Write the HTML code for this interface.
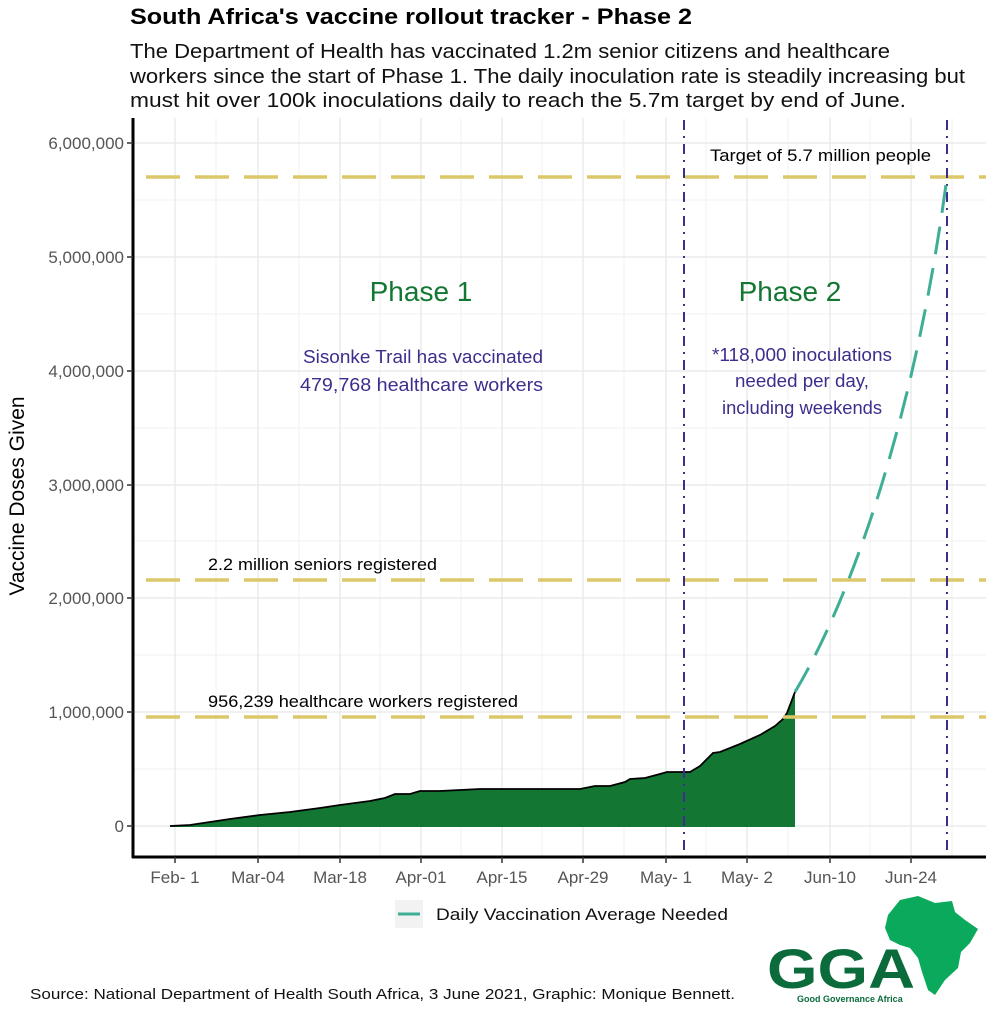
<!DOCTYPE html>
<html><head><meta charset="utf-8"><style>
body{margin:0;background:#fff;font-family:"Liberation Sans",sans-serif;}
</style></head><body>
<svg width="996" height="1024" xmlns="http://www.w3.org/2000/svg" font-family="Liberation Sans, sans-serif">
<rect width="996" height="1024" fill="#fff"/>
<text x="130" y="24" font-size="22" font-weight="bold" fill="#000" textLength="562" lengthAdjust="spacingAndGlyphs">South Africa's vaccine rollout tracker - Phase 2</text>
<text font-size="20" fill="#111"><tspan x="130" y="58" textLength="760" lengthAdjust="spacingAndGlyphs">The Department of Health has vaccinated 1.2m senior citizens and healthcare</tspan><tspan x="130" y="83" textLength="835" lengthAdjust="spacingAndGlyphs">workers since the start of Phase 1. The daily inoculation rate is steadily increasing but</tspan><tspan x="130" y="107" textLength="776" lengthAdjust="spacingAndGlyphs">must hit over 100k inoculations daily to reach the 5.7m target by end of June.</tspan></text>
<!-- grid -->
<g stroke="#f0f0f0" stroke-width="1">
<line x1="133" x2="986" y1="769" y2="769"/><line x1="133" x2="986" y1="655" y2="655"/><line x1="133" x2="986" y1="541" y2="541"/><line x1="133" x2="986" y1="428" y2="428"/><line x1="133" x2="986" y1="314" y2="314"/><line x1="133" x2="986" y1="200" y2="200"/>
<line x1="216" x2="216" y1="118" y2="857"/><line x1="299" x2="299" y1="118" y2="857"/><line x1="380" x2="380" y1="118" y2="857"/><line x1="461" x2="461" y1="118" y2="857"/><line x1="542" x2="542" y1="118" y2="857"/><line x1="624" x2="624" y1="118" y2="857"/><line x1="706" x2="706" y1="118" y2="857"/><line x1="788" x2="788" y1="118" y2="857"/><line x1="870" x2="870" y1="118" y2="857"/><line x1="952" x2="952" y1="118" y2="857"/>
</g>
<g stroke="#e8e8e8" stroke-width="1.3">
<line x1="133" x2="986" y1="826" y2="826"/><line x1="133" x2="986" y1="712" y2="712"/><line x1="133" x2="986" y1="598" y2="598"/><line x1="133" x2="986" y1="485" y2="485"/><line x1="133" x2="986" y1="371" y2="371"/><line x1="133" x2="986" y1="257" y2="257"/><line x1="133" x2="986" y1="143" y2="143"/>
<line x1="175" x2="175" y1="118" y2="857"/><line x1="258" x2="258" y1="118" y2="857"/><line x1="340" x2="340" y1="118" y2="857"/><line x1="421" x2="421" y1="118" y2="857"/><line x1="502" x2="502" y1="118" y2="857"/><line x1="583" x2="583" y1="118" y2="857"/><line x1="666" x2="666" y1="118" y2="857"/><line x1="747" x2="747" y1="118" y2="857"/><line x1="830" x2="830" y1="118" y2="857"/><line x1="911" x2="911" y1="118" y2="857"/>
</g>
<!-- area -->
<polygon fill="#137632" stroke="none" points="170,826 190,825 210,822 230,819 260,815 290,812 320,808 340,805 370,801 385,798 395,794 410,794 420,791 440,791 460,790 480,789 580,789 595,786 610,786 625,782 630,779 645,778 660,774 667,772 690,772 700,766 713,753 720,752 740,744 760,735 775,726 783,719 787,713 795,692 795,827 170,827"/>
<polyline fill="none" stroke="#000" stroke-width="1.8" points="170,826 190,825 210,822 230,819 260,815 290,812 320,808 340,805 370,801 385,798 395,794 410,794 420,791 440,791 460,790 480,789 580,789 595,786 610,786 625,782 630,779 645,778 660,774 667,772 690,772 700,766 713,753 720,752 740,744 760,735 775,726 783,719 787,713 795,692"/>
<!-- hlines -->
<g stroke="#dcc86a" stroke-width="3.5" stroke-dasharray="34 15">
<line x1="146" x2="986" y1="177" y2="177"/><line x1="146" x2="986" y1="580" y2="580"/><line x1="146" x2="986" y1="717" y2="717"/>
</g>
<!-- vlines -->
<g stroke="#3b2e8c" stroke-width="2" stroke-dasharray="10 6 2 6">
<line x1="684" x2="684" y1="120" y2="857"/><line x1="947" x2="947" y1="120" y2="857"/>
</g>
<path d="M795,692 C850,600 915,420 947,177" fill="none" stroke="#3fae96" stroke-width="3" stroke-dasharray="28 14"/>
<!-- axes -->
<line x1="133" x2="133" y1="118" y2="858" stroke="#000" stroke-width="3"/>
<line x1="132" x2="986" y1="857" y2="857" stroke="#000" stroke-width="3"/>
<g font-size="17" fill="#555" text-anchor="end">
<text x="124" y="832">0</text><text x="124" y="718">1,000,000</text><text x="124" y="604">2,000,000</text><text x="124" y="491">3,000,000</text><text x="124" y="377">4,000,000</text><text x="124" y="263">5,000,000</text><text x="124" y="149">6,000,000</text>
</g>
<g stroke="#333" stroke-width="1.5">
<line x1="127" x2="133" y1="826" y2="826"/><line x1="127" x2="133" y1="712" y2="712"/><line x1="127" x2="133" y1="598" y2="598"/><line x1="127" x2="133" y1="485" y2="485"/><line x1="127" x2="133" y1="371" y2="371"/><line x1="127" x2="133" y1="257" y2="257"/><line x1="127" x2="133" y1="143" y2="143"/>
<line x1="175" x2="175" y1="857" y2="863"/><line x1="258" x2="258" y1="857" y2="863"/><line x1="340" x2="340" y1="857" y2="863"/><line x1="421" x2="421" y1="857" y2="863"/><line x1="502" x2="502" y1="857" y2="863"/><line x1="583" x2="583" y1="857" y2="863"/><line x1="666" x2="666" y1="857" y2="863"/><line x1="747" x2="747" y1="857" y2="863"/><line x1="830" x2="830" y1="857" y2="863"/><line x1="911" x2="911" y1="857" y2="863"/>
</g>
<g font-size="17" fill="#555" text-anchor="middle">
<text x="175" y="883">Feb- 1</text><text x="258" y="883">Mar-04</text><text x="340" y="883">Mar-18</text><text x="421" y="883">Apr-01</text><text x="502" y="883">Apr-15</text><text x="583" y="883">Apr-29</text><text x="666" y="883">May- 1</text><text x="747" y="883">May- 2</text><text x="830" y="883">Jun-10</text><text x="911" y="883">Jun-24</text>
</g>
<text transform="translate(24,496) rotate(-90)" font-size="21" text-anchor="middle" fill="#000">Vaccine Doses Given</text>
<!-- annotations -->
<text x="710" y="161" font-size="17" fill="#000" textLength="221" lengthAdjust="spacingAndGlyphs">Target of 5.7 million people</text>
<text x="208" y="570" font-size="17" fill="#000" textLength="229" lengthAdjust="spacingAndGlyphs">2.2 million seniors registered</text>
<text x="208" y="707" font-size="17" fill="#000" textLength="310" lengthAdjust="spacingAndGlyphs">956,239 healthcare workers registered</text>
<text x="421" y="301" font-size="28" text-anchor="middle" fill="#137632">Phase 1</text>
<text x="790" y="301" font-size="28" text-anchor="middle" fill="#137632">Phase 2</text>
<g font-size="18" fill="#3b2e8c">
<text x="303" y="363" textLength="240" lengthAdjust="spacingAndGlyphs">Sisonke Trail has vaccinated</text><text x="300" y="391" textLength="243" lengthAdjust="spacingAndGlyphs">479,768 healthcare workers</text>
<text x="712" y="361" textLength="180" lengthAdjust="spacingAndGlyphs">*118,000 inoculations</text><text x="735" y="387" textLength="134" lengthAdjust="spacingAndGlyphs">needed per day,</text><text x="722" y="414" textLength="160" lengthAdjust="spacingAndGlyphs">including weekends</text>
</g>
<!-- legend -->
<rect x="395" y="900" width="28" height="28" fill="#f2f2f2"/>
<line x1="398" x2="420" y1="914" y2="914" stroke="#3fae96" stroke-width="3"/>
<text x="436" y="920" font-size="17" fill="#111" textLength="292" lengthAdjust="spacingAndGlyphs">Daily Vaccination Average Needed</text>
<text x="30" y="999" font-size="15" fill="#111" textLength="705" lengthAdjust="spacingAndGlyphs">Source: National Department of Health South Africa, 3 June 2021, Graphic: Monique Bennett.</text>
<!-- logo -->
<path d="M900,900 L918,896 L935,903 L952,901 L955,912 L965,920 L978,929 L970,943 L961,952 L958,968 L945,980 L935,995 L928,990 L922,972 L918,958 L910,948 L900,945 L890,940 L885,928 L888,915 Z" fill="#0aa95c"/>
<text x="767" y="988" font-size="56" font-weight="bold" fill="#0b6b3a" textLength="148" lengthAdjust="spacingAndGlyphs">GGA</text>
<text x="797" y="1002" font-size="9" font-weight="bold" fill="#0b6b3a">Good Governance Africa</text>
</svg>
</body></html>
